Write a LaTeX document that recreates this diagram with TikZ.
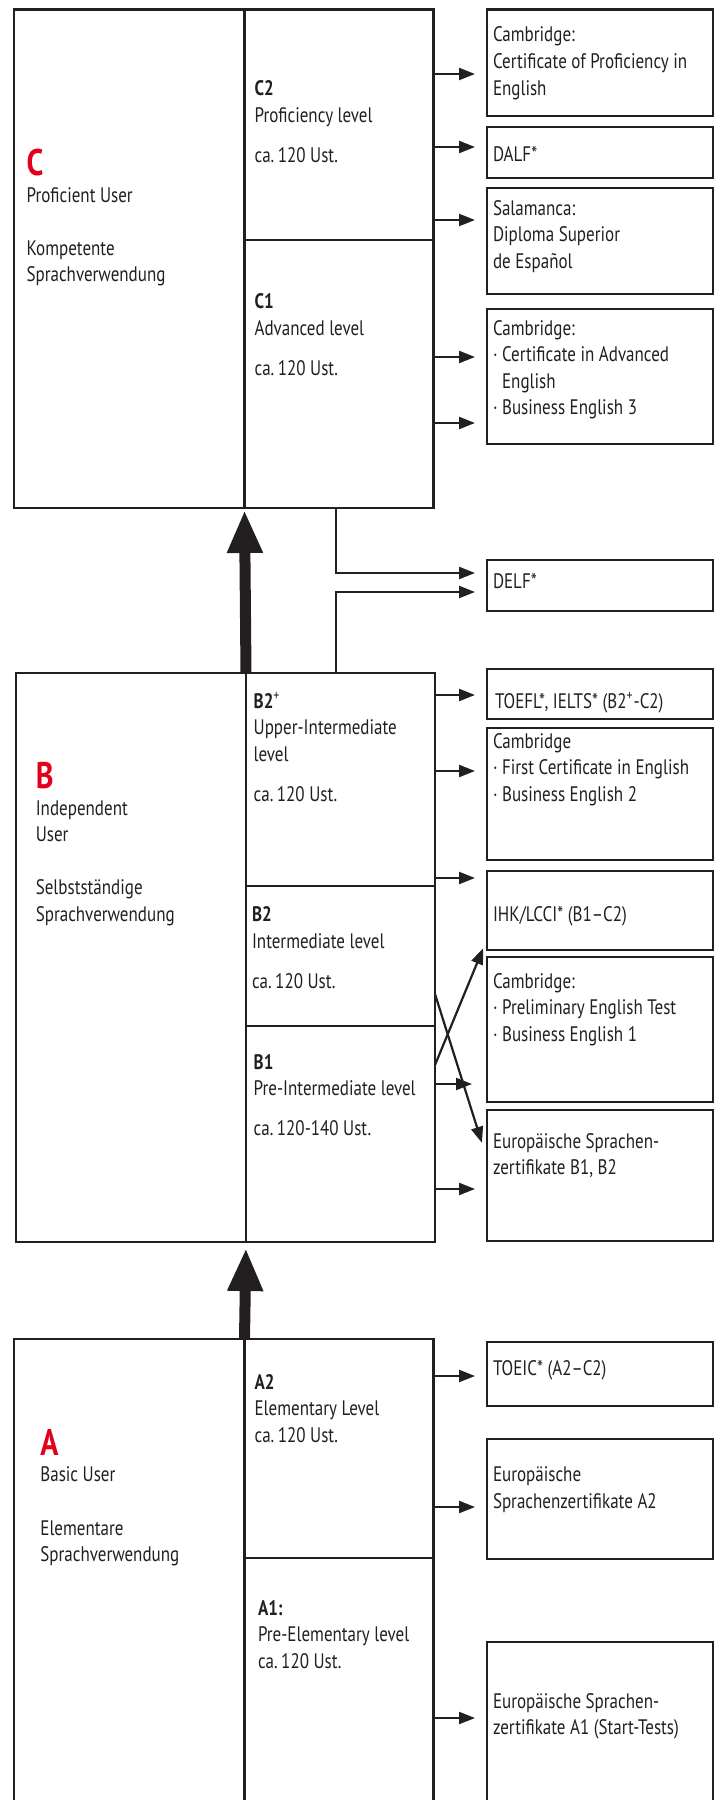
\documentclass[tikz,border=0pt]{standalone}
\usepackage{fontspec}
\setmainfont{PT Sans}[FakeStretch=0.81]
\usetikzlibrary{arrows.meta,fit}
\definecolor{ink}{RGB}{35,31,32}
\definecolor{cefrred}{RGB}{226,0,26}
\newcommand{\ml}[1]{\begin{tabular}[t]{@{}l@{}}#1\end{tabular}}
\tikzset{
  box/.style={draw=ink, line width=1.2pt, inner sep=0pt, outer sep=0pt},
  txt/.style={anchor=base west, inner sep=0pt, outer sep=0pt, text=ink, font=\fontsize{10.5}{13.33}\selectfont},
  bigletter/.style={anchor=base west, inner sep=0pt, outer sep=0pt, text=cefrred, font=\fontsize{18.5}{20}\selectfont\bfseries},
  arr/.style={draw=ink, line width=1.1pt, -{Triangle[length=8pt,width=6pt]}, shorten >=6pt},
  bigarr/.style={draw=ink, line width=5.5pt, -{Triangle[length=21.5pt,width=16.5pt]}}
}
\begin{document}
\begin{tikzpicture}[x=0.5pt,y=-0.5pt]
\useasboundingbox (0,0) rectangle (716,1800);
\clip (0,0) rectangle (716,1800);
% level C
\node[box, fit={(14,9.3)(244.5,508)}] (cuser) {};
\node[box, fit={(244.5,9.3)(433.5,240)}] (c2) {};
\node[box, fit={(244.5,240)(433.5,508)}] (c1) {};
% level B
\node[box, fit={(16,673)(246,1242)}] (buser) {};
\node[box, fit={(246,673)(435,886)}] (b2p) {};
\node[box, fit={(246,886)(435,1026)}] (b2) {};
\node[box, fit={(246,1026)(435,1242)}] (b1) {};
% level A
\node[box, fit={(14,1339)(244.5,1830)}] (auser) {};
\node[box, fit={(244.5,1339)(433.5,1558)}] (a2) {};
\node[box, fit={(244.5,1558)(433.5,1830)}] (a1) {};
% certificates
\node[box, fit={(487,9.3)(713,115.7)}] (cpe) {};
\node[box, fit={(487,127)(713,178)}] (dalf) {};
\node[box, fit={(487,188)(713,294)}] (dele) {};
\node[box, fit={(487,309)(713,444)}] (cae) {};
\node[box, fit={(487,560)(713,611)}] (delf) {};
\node[box, fit={(487,669)(713,719)}] (toefl) {};
\node[box, fit={(487,728)(713,860)}] (fce) {};
\node[box, fit={(487,871)(713,950)}] (ihk) {};
\node[box, fit={(487,957)(713,1102)}] (pet) {};
\node[box, fit={(487,1110)(713,1241)}] (eurob) {};
\node[box, fit={(487,1342)(713,1406)}] (toeic) {};
\node[box, fit={(487,1439)(713,1559)}] (euroa2) {};
\node[box, fit={(487,1642)(713,1830)}] (euroa1) {};

% texts C
\node[bigletter] (tC) at (26.6,175) {C};
\node[txt] (tCu) at (26.6,202) {\ml{Proficient User\\[13.33pt]Kompetente\\Sprachverwendung}};
\node[txt] (tC2) at (254.6,95.7) {\ml{\textbf{C2}\\Proficiency level\\[6.67pt]ca.\,120 Ust.}};
\node[txt] (tC1) at (254.6,308.5) {\ml{\textbf{C1}\\Advanced level\\[6.67pt]ca.\,120 Ust.}};
\node[txt] (tcpe) at (493,41.7) {\ml{Cambridge:\\Certificate of Proficiency in\\English}};
\node[txt] (tdalf) at (493,161.7) {DALF*};
\node[txt] (tdele) at (493,215) {\ml{Salamanca:\\Diploma Superior\\de Español}};
\node[txt] (tcae) at (493,335) {\ml{Cambridge:\\· Certificate in Advanced\\\hphantom{· }English\\· Business English 3}};
\node[txt] (tdelf) at (493,588) {DELF*};
% texts B
\node[bigletter] (tB) at (35.8,788) {B};
\node[txt] (tBu) at (35.8,815) {\ml{Independent\\User\\[13.33pt]Selbstständige\\Sprachverwendung}};
\node[txt] (tB2p) at (253.7,708.3) {\ml{\textbf{B2}\textsuperscript{+}\\Upper-Intermediate\\level\\[6.67pt]ca.\,120 Ust.}};
\node[txt] (tB2) at (252,921.7) {\ml{\textbf{B2}\\Intermediate level\\[6.67pt]ca.\,120 Ust.}};
\node[txt] (tB1) at (253.7,1069) {\ml{\textbf{B1}\\Pre-Intermediate level\\[6.67pt]ca.\,120-140 Ust.}};
\node[txt] (ttoefl) at (495,708.3) {TOEFL*, IELTS* (B2\textsuperscript{+}-C2)};
\node[txt] (tfce) at (493,748.3) {\ml{Cambridge\\· First Certificate in English\\· Business English 2}};
\node[txt] (tihk) at (493,921.7) {IHK/LCCI* (B1–C2)};
\node[txt] (tpet) at (493,988.3) {\ml{Cambridge:\\· Preliminary English Test\\· Business English 1}};
\node[txt] (teurob) at (493,1148) {\ml{Europäische Sprachen-\\zertifikate B1, B2}};
% texts A
\node[bigletter] (tA) at (40.4,1455) {A};
\node[txt] (tAu) at (40.4,1481.7) {\ml{Basic User\\[13.33pt]Elementare\\Sprachverwendung}};
\node[txt] (tA2) at (254.6,1389) {\ml{\textbf{A2}\\Elementary Level\\ca.\,120 Ust.}};
\node[txt] (tA1) at (258,1615) {\ml{\textbf{A1:}\\Pre-Elementary level\\ca.\,120 Ust.}};
\node[txt] (ttoeic) at (493,1375) {TOEIC* (A2–C2)};
\node[txt] (teuroa2) at (493,1481.7) {\ml{Europäische\\Sprachenzertifikate A2}};
\node[txt] (teuroa1) at (493,1708) {\ml{Europäische Sprachen-\\zertifikate A1 (Start-Tests)}};

% connectors C
\draw[arr] (c2.east |- 0,74) -- (cpe.west |- 0,74);
\draw[arr] (c2.east |- 0,147) -- (dalf.west |- 0,147);
\draw[arr] (c2.east |- 0,220) -- (dele.west |- 0,220);
\draw[arr] (c1.east |- 0,357) -- (cae.west |- 0,357);
\draw[arr] (c1.east |- 0,423) -- (cae.west |- 0,423);
\draw[arr] (c1.south -| 336,0) |- (delf.west |- 0,573);
\draw[arr] (b2p.north -| 336,0) |- (delf.west |- 0,592);
% connectors B
\draw[arr] (b2p.east |- 0,695) -- (toefl.west |- 0,695);
\draw[arr] (b2p.east |- 0,771) -- (fce.west |- 0,771);
\draw[arr] (b2p.east |- 0,878) -- (ihk.west |- 0,878);
\draw[arr, shorten >=5pt] (b1.east |- 0,1065) -- (ihk.west |- 0,939);
\draw[arr, shorten >=8.5pt] (b2.east |- 0,994) -- (eurob.west |- 0,1159);
\draw[arr, shorten >=7.5pt] (b1.east |- 0,1084) -- (pet.west |- 0,1084);
\draw[arr] (b1.east |- 0,1189) -- (eurob.west |- 0,1189);
% connectors A
\draw[arr] (a2.east |- 0,1376) -- (toeic.west |- 0,1376);
\draw[arr] (a2.east |- 0,1507) -- (euroa2.west |- 0,1507);
\draw[arr] (a1.east |- 0,1718) -- (euroa1.west |- 0,1718);
% progression arrows
\draw[bigarr, shorten >=1pt] (buser.north east) -- (cuser.south east);
\draw[bigarr, shorten >=3pt] (auser.north east) -- (buser.south east);
\end{tikzpicture}
\end{document}
